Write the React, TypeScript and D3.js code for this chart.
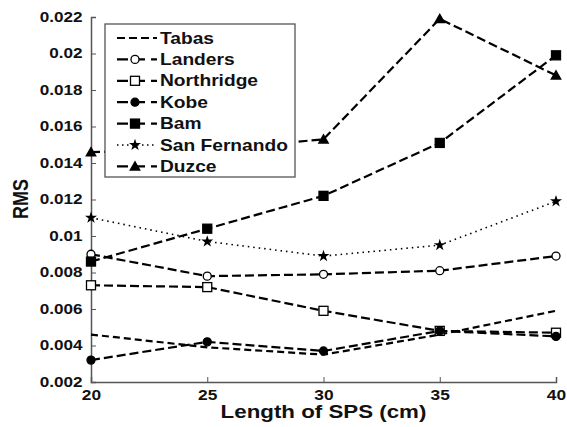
import { useEffect, useRef } from "react";
import * as d3 from "d3";

const lengths = [20, 25, 30, 35, 40];
const tabas = [0.0046, 0.0039, 0.0035, 0.0046, 0.0059];
const landers = [0.009, 0.0078, 0.0079, 0.0081, 0.0089];
const northridge = [0.0073, 0.0072, 0.0059, 0.0048, 0.0047];
const kobe = [0.0032, 0.0042, 0.0037, 0.0048, 0.0045];
const bam = [0.0086, 0.0104, 0.0122, 0.0151, 0.0199];
const sanFernando = [0.011, 0.0097, 0.0089, 0.0095, 0.0119];
const duzce = [0.0146, 0.0147, 0.0153, 0.0219, 0.0188];
const yTicks = [0.002, 0.004, 0.006, 0.008, 0.01, 0.012, 0.014, 0.016, 0.018, 0.02, 0.022];

const series = [
  { name: "Tabas", values: tabas, marker: "none", dash: "7,4" },
  { name: "Landers", values: landers, marker: "openCircle", dash: "9,4" },
  { name: "Northridge", values: northridge, marker: "openSquare", dash: "9,4" },
  { name: "Kobe", values: kobe, marker: "circle", dash: "9,4" },
  { name: "Bam", values: bam, marker: "square", dash: "9,4" },
  { name: "San Fernando", values: sanFernando, marker: "diamond", dash: "1.5,4" },
  { name: "Duzce", values: duzce, marker: "triangle", dash: "9,4" },
];

const margin = { top: 17, right: 11, bottom: 45, left: 91 };
const width = 567;
const height = 427;
const font = "'Liberation Sans', Arial, sans-serif";
// the scanned figure is stretched sideways, so the text is too
const stretch = 1.24;

function drawMarker(g: any, kind: string, x: number, y: number) {
  if (kind === "none") return;
  if (kind === "openCircle" || kind === "circle") {
    g.append("circle").attr("cx", x).attr("cy", y).attr("r", 4)
      .attr("fill", kind === "circle" ? "#000" : "#fff")
      .attr("stroke", "#000").attr("stroke-width", 1.3);
  } else if (kind === "openSquare" || kind === "square") {
    g.append("rect").attr("x", x - 4.5).attr("y", y - 4.5)
      .attr("width", 9).attr("height", 9)
      .attr("fill", kind === "square" ? "#000" : "#fff")
      .attr("stroke", "#000").attr("stroke-width", 1.3);
  } else if (kind === "triangle") {
    g.append("path").attr("d", d3.symbol(d3.symbolTriangle, 60)())
      .attr("transform", `translate(${x},${y + 1})`).attr("fill", "#000");
  } else if (kind === "diamond") {
    g.append("path").attr("d", d3.symbol(d3.symbolStar, 45)())
      .attr("transform", `translate(${x},${y})`).attr("fill", "#000");
  }
}

function Chart() {
  const ref = useRef<SVGSVGElement>(null);

  useEffect(() => {
    const svg = d3.select(ref.current);
    svg.selectAll("*").remove();

    const x = d3.scaleLinear().domain([20, 40]).range([margin.left, width - margin.right]);
    const y = d3.scaleLinear().domain([0.002, 0.022]).range([height - margin.bottom, margin.top]);

    const axes = svg.append("g").attr("font-family", font).attr("font-weight", "bold");

    // x axis
    const xAxis = axes.append("g").attr("transform", `translate(0,${height - margin.bottom})`);
    xAxis.call(d3.axisBottom(x).tickValues(lengths).tickSize(-5).tickPadding(8).tickFormat(d3.format("d")) as any);
    xAxis.select(".domain").attr("stroke", "#555").attr("stroke-width", 1.5);
    xAxis.selectAll(".tick line").attr("stroke", "#555");
    xAxis.selectAll("text").attr("font-size", 14).attr("font-family", font).attr("fill", "#111")
      .attr("transform", `scale(${stretch},1)`);

    // y axis
    const yAxis = axes.append("g").attr("transform", `translate(${margin.left},0)`);
    yAxis.call(d3.axisLeft(y).tickValues(yTicks).tickSize(-5).tickPadding(7).tickFormat((d: any) => String(+d.toFixed(3))) as any);
    yAxis.select(".domain").attr("stroke", "#555").attr("stroke-width", 1.5);
    yAxis.selectAll(".tick line").attr("stroke", "#555");
    yAxis.selectAll("text").attr("font-size", 14).attr("font-family", font).attr("fill", "#111")
      .attr("transform", `scale(${stretch * 0.985},1)`);

    axes.append("text")
      .attr("transform", `translate(${(margin.left + width - margin.right) / 2},418) scale(${stretch},1)`)
      .attr("text-anchor", "middle").attr("font-size", 18).attr("fill", "#111")
      .text("Length of SPS (cm)");
    axes.append("text")
      .attr("transform", `translate(28,199) rotate(-90) scale(1,${stretch})`)
      .attr("text-anchor", "middle").attr("font-size", 18).attr("fill", "#111")
      .text("RMS");

    const line = d3.line<number>().x((_, i) => x(lengths[i])).y((d) => y(d));
    const plot = svg.append("g");
    series.forEach((s) => {
      plot.append("path").attr("d", line(s.values))
        .attr("fill", "none").attr("stroke", "#000")
        .attr("stroke-width", s.marker === "diamond" ? 1.6 : 2.2)
        .attr("stroke-dasharray", s.dash);
    });
    series.forEach((s) => {
      s.values.forEach((v, i) => drawMarker(plot, s.marker, x(lengths[i]), y(v)));
    });

    // legend
    const lg = svg.append("g").attr("transform", "translate(105,24)");
    lg.append("rect").attr("width", 190).attr("height", 153)
      .attr("fill", "#fff").attr("stroke", "#555").attr("stroke-width", 1.3);
    series.forEach((s, i) => {
      const yy = 14 + i * 21.4;
      const row = lg.append("g");
      row.append("line").attr("x1", 12).attr("x2", 52).attr("y1", yy).attr("y2", yy)
        .attr("stroke", "#000").attr("stroke-width", s.marker === "diamond" ? 1.6 : 2.2)
        .attr("stroke-dasharray", s.marker === "none" ? "8,4" : s.marker === "diamond" ? "1.5,3.5" : "11,6");
      drawMarker(row, s.marker, 30, yy);
      row.append("text")
        .attr("transform", `translate(55,${yy + 5.5}) scale(1.2,1)`)
        .attr("font-family", font).attr("font-weight", "bold").attr("font-size", 16)
        .attr("fill", "#111").text(s.name);
    });
  }, []);

  return (
    <svg
      ref={ref}
      width={width}
      height={height}
      style={{ position: "absolute", left: 0, top: 0, background: "#fff" }}
    />
  );
}

export default function App() {
  return <Chart />;
}
